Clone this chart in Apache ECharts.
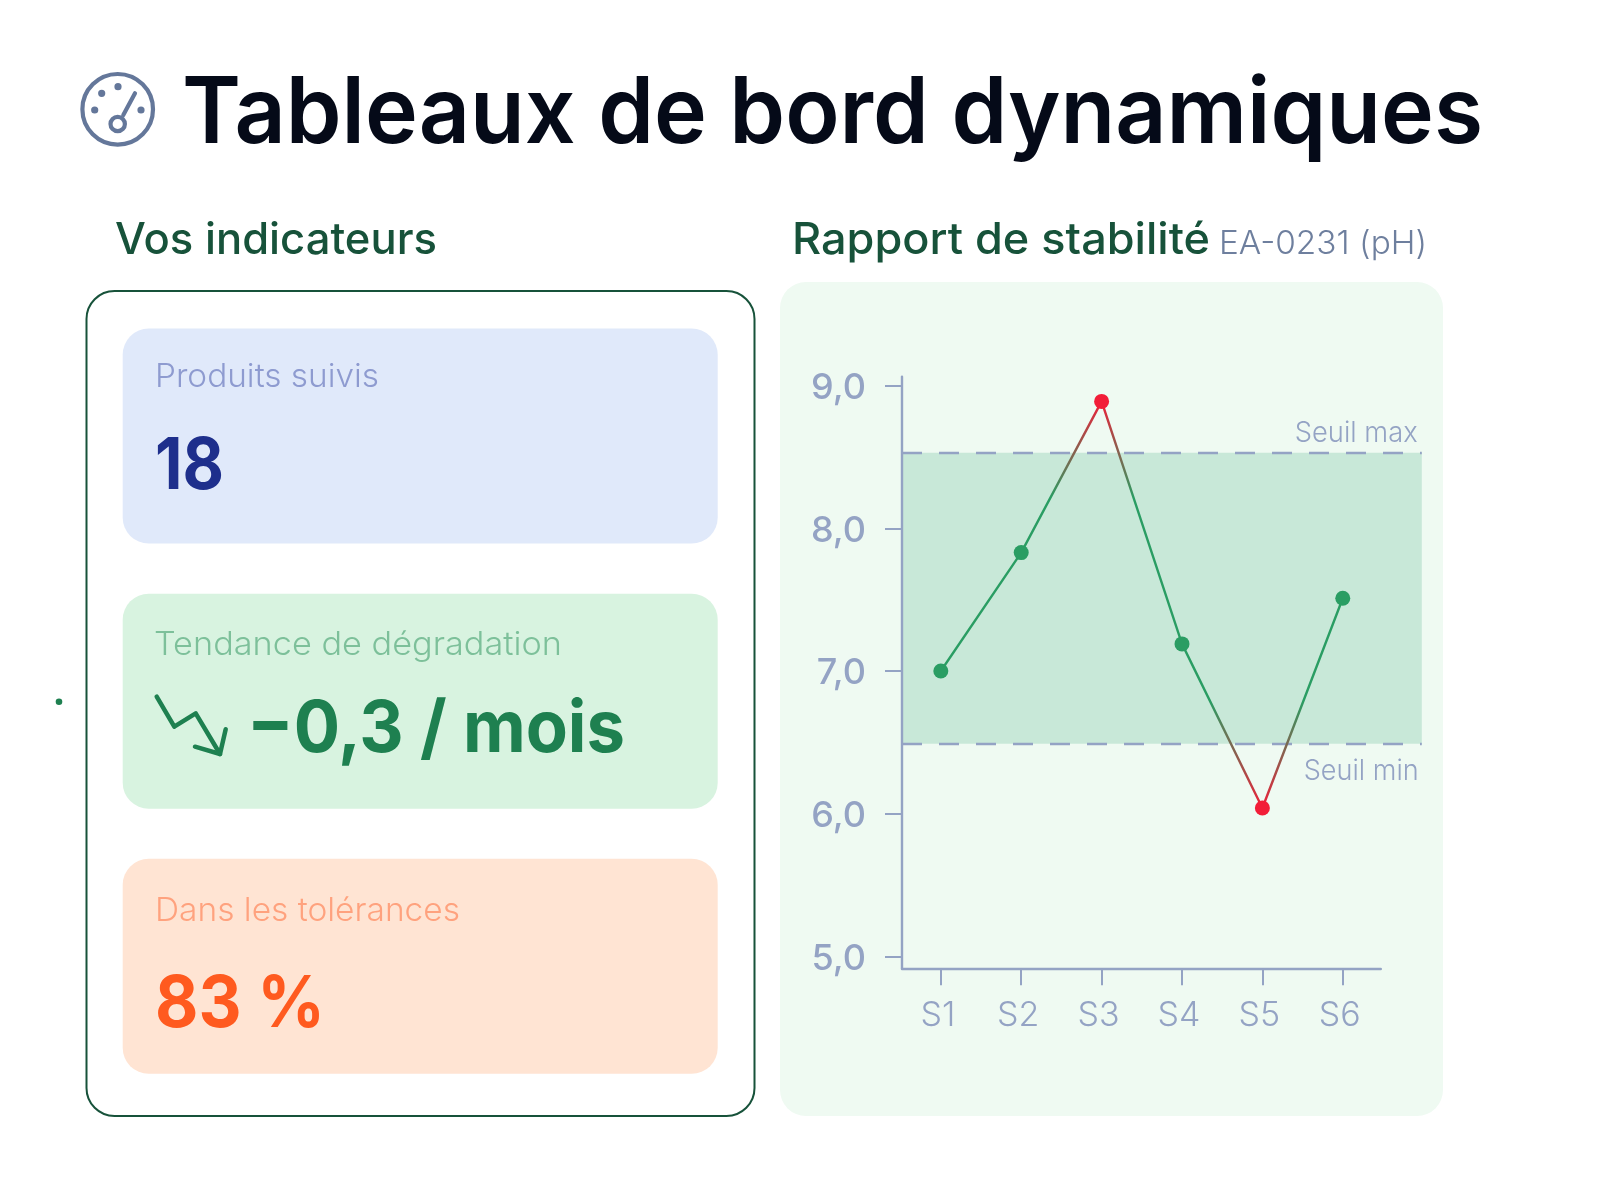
<!DOCTYPE html>
<html><head><meta charset="utf-8">
<style>html,body{margin:0;padding:0;background:#fff}#c{width:1605px;height:1184px}</style>
<script src="https://cdn.jsdelivr.net/npm/echarts@6/dist/echarts.min.js"></script>
</head><body><div id="c"></div>
<script>
const categories = ['S1','S2','S3','S4','S5','S6'];
const phValues = [7.0,7.83,8.89,7.19,6.04,7.51];
const yTicks = [5,6,7,8,9];
const seuilMax = 8.53;
const seuilMin = 6.49;
const tolLow = 6.5, tolHigh = 8.5;

const FONT = 'Inter, "Noto Sans", sans-serif';
const GREEN = '#2A9D63', RED = '#F21D38', AXIS = '#94A3C4';
const mctx = document.createElement('canvas').getContext('2d');
function txt(x, base, str, size, weight, color, width, align){
  const font = `${weight} ${size}px ${FONT}`;
  mctx.font = font;
  const sx = width ? width / mctx.measureText(str).width : 1;
  return {type:'text', x, y: base - 0.30*size, scaleX: sx, silent:true,
    style:{x:0,y:0,text:str,font,fill:color,align:align||'left',verticalAlign:'middle'}};
}
function rect(x,y,w,h,r,fill,stroke,lw){
  return {type:'rect',silent:true,shape:{x,y,width:w,height:h,r},style:{fill:fill||'transparent',stroke:stroke||null,lineWidth:lw||0}};
}
const ICON = '#64779A', ICW = {stroke:ICON,lineWidth:4.2,fill:'transparent',lineCap:'round',lineJoin:'round'};
const TREND = '#1E8050', TRW = {stroke:TREND,lineWidth:4.5,fill:'transparent',lineCap:'round',lineJoin:'round'};
const graphics = [
  rect(780,282,663,834,26,'#EFFAF2'),
  rect(86.5,291,668,825,28,'#fff','#17523A',2),
  rect(122.7,328.6,595,215,26,'#E0E9FA'),
  rect(122.7,593.7,595,215,26,'#D8F3E0'),
  rect(122.7,858.8,595,215,26,'#FFE4D3'),
  {type:'circle',silent:true,shape:{cx:117.7,cy:109.3,r:35.3},style:ICW},
  {type:'circle',silent:true,shape:{cx:117.7,cy:124,r:7.2},style:ICW},
  {type:'line',silent:true,shape:{x1:123.3,y1:115,x2:135,y2:93.3},style:ICW},
  ...[[101.7,93.3],[118,86.7],[94.7,110],[141,110]].map(p=>({type:'circle',silent:true,shape:{cx:p[0],cy:p[1],r:3.6},style:{fill:ICON}})),
  txt(182,142.7,'Tableaux de bord dynamiques',92,600,'#050A18',1301),
  txt(115,254,'Vos indicateurs',44,500,'#17523A',322),
  txt(792,254,'Rapport de stabilité',44,500,'#17523A',418),
  txt(1219,254,'EA-0231 (pH)',33,300,'#6E7F9E',208),
  txt(155,386.5,'Produits suivis',33,300,'#8E9BD0',224),
  txt(155,489,'18',72,700,'#1E2F8C',69),
  txt(154,655,'Tendance de dégradation',33,300,'#7DC09A',408),
  txt(247,751.5,'−0,3 / mois',72,700,TREND,378),
  txt(155,921,'Dans les tolérances',33,300,'#FFA27E',305),
  txt(155,1026.7,'83 %',72,700,'#FF5A1F',170),
  {type:'polyline',silent:true,shape:{points:[[156.7,696.7],[174.3,726.7],[195.7,713.3],[220,754]]},style:TRW},
  {type:'polyline',silent:true,shape:{points:[[195,746.7],[220,754],[225.7,729.3]]},style:TRW},
  {type:'circle',silent:true,shape:{cx:59,cy:701.7,r:3.3},style:{fill:TREND}},
  txt(1417.7,441.7,'Seuil max',28,300,AXIS,123,'right'),
  txt(1418.7,780,'Seuil min',28,300,AXIS,115,'right')
];

const chart = echarts.init(document.getElementById('c'),null,{renderer:'canvas',width:1605,height:1184});
const yMin = 4.916, yMax = 9.063;
const hi = Math.max(...phValues), lo = Math.min(...phValues);
const off = v => (hi - v) / (hi - lo);
chart.setOption({
  animation:false,
  graphic:{elements:graphics},
  grid:[
    {left:902,top:376.7,width:478.8,height:591.6,containLabel:false},
    {left:902,top:376.7,width:519.8,height:591.6,containLabel:false}
  ],
  xAxis:[
    {type:'value',gridIndex:0,min:-0.483,max:5.473,splitLine:{show:false},z:5,
      axisLine:{show:true,onZero:false,lineStyle:{color:AXIS,width:2.4}},
      axisTick:{show:true,length:17,customValues:categories.map((c,i)=>i),lineStyle:{color:AXIS,width:2}},
      axisLabel:{show:true,margin:30,padding:[0,6,0,0],customValues:categories.map((c,i)=>i),formatter:v=>categories[v]||'',
        color:AXIS,fontFamily:FONT,fontWeight:300,fontSize:34}},
    {type:'value',gridIndex:1,min:0,max:1,show:false}
  ],
  yAxis:[
    {type:'value',gridIndex:0,min:yMin,max:yMax,splitLine:{show:false},z:5,
      axisLine:{show:true,onZero:false,lineStyle:{color:AXIS,width:2.4}},
      axisTick:{show:true,length:17,customValues:yTicks,lineStyle:{color:AXIS,width:2}},
      axisLabel:{show:true,margin:36,customValues:yTicks,formatter:v=>'{a|'+v.toFixed(1).replace('.',',')+'}',
        rich:{a:{color:AXIS,fontFamily:FONT,fontWeight:500,fontSize:36,padding:[5,0,0,0]}}}},
    {type:'value',gridIndex:1,min:yMin,max:yMax,show:false}
  ],
  series:[
    {type:'line',xAxisIndex:1,yAxisIndex:1,z:1,silent:true,showSymbol:false,
      data:[[0,seuilMax],[1,seuilMin]],lineStyle:{width:0,opacity:0},
      markArea:{silent:true,itemStyle:{color:'#C8E8D8'},data:[[{yAxis:seuilMax},{yAxis:seuilMin}]]},
      markLine:{silent:true,symbol:'none',label:{show:false},
        lineStyle:{color:AXIS,width:2.4,type:[20,17]},data:[{yAxis:seuilMax},{yAxis:seuilMin}]}},
    {type:'line',xAxisIndex:0,yAxisIndex:0,z:6,clip:false,silent:true,smooth:false,
      symbol:'circle',symbolSize:15,showAllSymbol:true,
      lineStyle:{width:2.4,color:new echarts.graphic.LinearGradient(0,0,0,1,[
        {offset:0,color:RED},{offset:off(tolHigh-0.3),color:GREEN},
        {offset:off(tolLow+0.3),color:GREEN},{offset:1,color:RED}])},
      data:categories.map((c,i)=>{
        const v = phValues[i], out = v>tolHigh||v<tolLow;
        return {value:[i,v],itemStyle:{color:out?RED:GREEN}};
      })}
  ]
});
</script></body></html>
